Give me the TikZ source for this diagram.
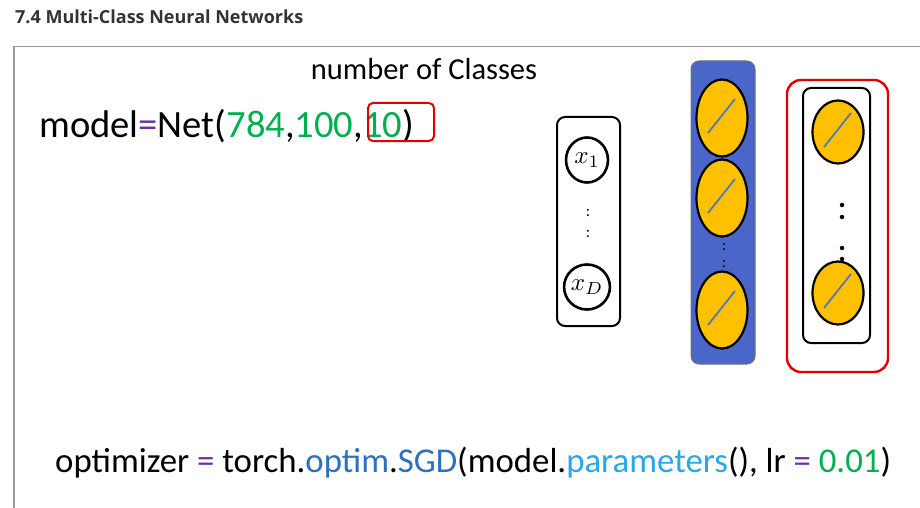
\documentclass[tikz,border=0pt]{standalone}
\usepackage{fontspec}
\setmainfont{Carlito}
\newfontfamily\headfont{Open Sans}
\definecolor{codegreen}{HTML}{00B050}
\definecolor{codepurple}{HTML}{7030A0}
\definecolor{codeblue}{HTML}{2E6FC0}
\definecolor{codecyan}{HTML}{2AA7E6}
\definecolor{layerblue}{HTML}{4A66C8}
\definecolor{unitgold}{HTML}{FFC000}
\definecolor{slashblue}{HTML}{5578B8}
\definecolor{framegray}{HTML}{9A9A9A}
\definecolor{hlred}{HTML}{E00000}
\tikzset{
  unit/.style={ellipse, draw=black, line width=2.2pt, fill=unitgold,
    minimum width=51pt, minimum height=#1, inner sep=0pt},
  inunit/.style={ellipse, draw=black, line width=2.6pt, fill=white,
    minimum width=42pt, minimum height=45pt, inner sep=0pt},
  layerbox/.style={rounded corners=8pt, line width=2pt},
  slash/.style={slashblue, line width=1.8pt},
  vdot/.style={circle, fill=black, inner sep=0pt, minimum size=#1},
}
\newcommand{\unitslash}[1]{\draw[slash] ($(#1)+(-14,15)$) -- ($(#1)+(13,-19)$);}
\newcommand{\invar}[1]{\scalebox{2.5}{$#1$}}
\usetikzlibrary{shapes.geometric,calc}
\begin{document}
\begin{tikzpicture}[x=1pt,y=-1pt]
\useasboundingbox (0,0) rectangle (920,508);
\fill[white] (0,0) rectangle (920,508);

% heading and frame
\node[anchor=base west, inner sep=0pt, text=black!80, font=\headfont\bfseries\fontsize{18}{20}\selectfont]
  (title) at (15,24) {7.4 Multi-Class Neural Networks};
\draw[framegray, line width=1.3pt] (14,508) -- (14,46.5) -- (920,46.5);

% code lines
\node[anchor=base, inner sep=0pt, font=\fontsize{30.5}{34}\selectfont] (ncls) at (424,80) {number of Classes};
\node[anchor=base west, inner sep=0pt, font=\fontsize{38.6}{42}\selectfont] (model) at (39,137)
  {model\textcolor{codepurple}{=}Net(\textcolor{codegreen}{784},\textcolor{codegreen}{100},\textcolor{codegreen}{10})};
\draw[hlred, line width=2pt, rounded corners=5pt] (368,103) rectangle (434,141);

\node[anchor=base west, inner sep=0pt, font=\fontsize{34.8}{38}\selectfont] (opt) at (55,472)
  {optimizer \textcolor{codepurple}{=} torch.\textcolor{codeblue}{optim}.\textcolor{codeblue}{SGD}(model.\textcolor{codecyan}{parameters}(), lr \textcolor{codepurple}{=} \textcolor{codegreen}{0.01})};

% input layer
\draw[layerbox, draw=black, fill=white] (557,117) rectangle (620,326);
\node[inunit] (x1) at (587,160) {\invar{x_1}};
\node[inunit] (xD) at (587,287) {\invar{x_D}};
\node[font=\fontsize{16}{16}\selectfont] (d1) at (588,213) {:};
\node[font=\fontsize{16}{16}\selectfont] (d2) at (588,234) {:};

% hidden layer
\draw[layerbox, draw=black!55, line width=1pt, fill=layerblue] (691,61) rectangle (755,364);
\node[unit=77pt] (h1) at (722,118) {};
\node[unit=77pt] (h2) at (722,198) {};
\node[unit=77pt] (h3) at (722,310) {};
\unitslash{h1}\unitslash{h2}\unitslash{h3}
\node[font=\fontsize{16}{16}\selectfont] (d3) at (724,247) {:};
\node[font=\fontsize{16}{16}\selectfont] (d4) at (724,264) {:};

% output layer
\draw[hlred, line width=2.4pt, rounded corners=14pt] (787,80) rectangle (888,372);
\draw[layerbox, draw=black, fill=white] (803,88) rectangle (870,343);
\node[unit=63pt] (o1) at (838,132) {};
\node[unit=63pt] (o2) at (838,293) {};
\unitslash{o1}\unitslash{o2}
\node[vdot=4.5pt] (p1) at (842,205) {};
\node[vdot=4.5pt] (p2) at (842,217) {};
\node[vdot=4.5pt] (p3) at (842,248) {};
\node[vdot=4.5pt] (p4) at (842,259) {};
\end{tikzpicture}
\end{document}
